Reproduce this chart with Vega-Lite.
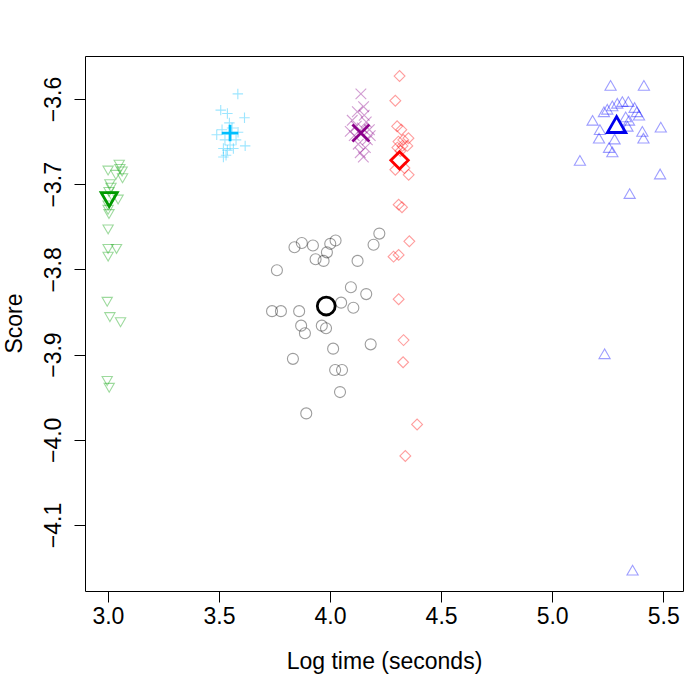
{
  "$schema": "https://vega.github.io/schema/vega-lite/v6.json",
  "autosize": {"type": "none"},
  "width": 598,
  "height": 535,
  "padding": {"left": 85, "top": 56, "right": 15, "bottom": 107},
  "background": "white",
  "config": {
    "view": {"stroke": "black", "strokeWidth": 1},
    "font": "Liberation Sans"
  },
  "datasets": {
    "pts": [
      {"grp": "G", "x": 3.001, "y": -3.684}, {"grp": "G", "x": 3.051, "y": -3.677}, {"grp": "G", "x": 3.054, "y": -3.682},
      {"grp": "G", "x": 3.064, "y": -3.685}, {"grp": "G", "x": 3.066, "y": -3.693}, {"grp": "G", "x": 3.036, "y": -3.689},
      {"grp": "G", "x": 3.009, "y": -3.700}, {"grp": "G", "x": 3.014, "y": -3.704}, {"grp": "G", "x": 3.005, "y": -3.709},
      {"grp": "G", "x": 3.018, "y": -3.714}, {"grp": "G", "x": 3.046, "y": -3.718}, {"grp": "G", "x": 3.001, "y": -3.725},
      {"grp": "G", "x": 3.001, "y": -3.730}, {"grp": "G", "x": 3.005, "y": -3.735}, {"grp": "G", "x": 3.001, "y": -3.753},
      {"grp": "G", "x": 3.001, "y": -3.776}, {"grp": "G", "x": 3.039, "y": -3.776}, {"grp": "G", "x": 3.001, "y": -3.785},
      {"grp": "G", "x": 2.997, "y": -3.838}, {"grp": "G", "x": 3.009, "y": -3.856}, {"grp": "G", "x": 3.057, "y": -3.862},
      {"grp": "G", "x": 2.997, "y": -3.931}, {"grp": "G", "x": 3.006, "y": -3.939},

      {"grp": "C", "x": 3.585, "y": -3.594}, {"grp": "C", "x": 3.508, "y": -3.613}, {"grp": "C", "x": 3.538, "y": -3.617},
      {"grp": "C", "x": 3.615, "y": -3.622}, {"grp": "C", "x": 3.547, "y": -3.628}, {"grp": "C", "x": 3.490, "y": -3.642},
      {"grp": "C", "x": 3.514, "y": -3.636}, {"grp": "C", "x": 3.527, "y": -3.648}, {"grp": "C", "x": 3.550, "y": -3.654},
      {"grp": "C", "x": 3.577, "y": -3.648}, {"grp": "C", "x": 3.586, "y": -3.639}, {"grp": "C", "x": 3.618, "y": -3.655},
      {"grp": "C", "x": 3.520, "y": -3.658}, {"grp": "C", "x": 3.538, "y": -3.660}, {"grp": "C", "x": 3.532, "y": -3.666},
      {"grp": "C", "x": 3.520, "y": -3.668}, {"grp": "C", "x": 3.565, "y": -3.658}, {"grp": "C", "x": 3.559, "y": -3.634},

      {"grp": "P", "x": 4.139, "y": -3.594}, {"grp": "P", "x": 4.151, "y": -3.609}, {"grp": "P", "x": 4.123, "y": -3.615},
      {"grp": "P", "x": 4.154, "y": -3.619}, {"grp": "P", "x": 4.100, "y": -3.625}, {"grp": "P", "x": 4.163, "y": -3.627},
      {"grp": "P", "x": 4.118, "y": -3.632}, {"grp": "P", "x": 4.145, "y": -3.634}, {"grp": "P", "x": 4.177, "y": -3.636},
      {"grp": "P", "x": 4.109, "y": -3.643}, {"grp": "P", "x": 4.168, "y": -3.648}, {"grp": "P", "x": 4.127, "y": -3.653},
      {"grp": "P", "x": 4.159, "y": -3.657}, {"grp": "P", "x": 4.136, "y": -3.663}, {"grp": "P", "x": 4.150, "y": -3.668},
      {"grp": "P", "x": 4.091, "y": -3.638}, {"grp": "P", "x": 4.181, "y": -3.643},

      {"grp": "R", "x": 4.313, "y": -3.573}, {"grp": "R", "x": 4.294, "y": -3.602}, {"grp": "R", "x": 4.302, "y": -3.632},
      {"grp": "R", "x": 4.321, "y": -3.636}, {"grp": "R", "x": 4.353, "y": -3.646}, {"grp": "R", "x": 4.330, "y": -3.648},
      {"grp": "R", "x": 4.308, "y": -3.650}, {"grp": "R", "x": 4.326, "y": -3.655}, {"grp": "R", "x": 4.348, "y": -3.655},
      {"grp": "R", "x": 4.303, "y": -3.657}, {"grp": "R", "x": 4.317, "y": -3.661}, {"grp": "R", "x": 4.294, "y": -3.683},
      {"grp": "R", "x": 4.335, "y": -3.681}, {"grp": "R", "x": 4.354, "y": -3.689}, {"grp": "R", "x": 4.309, "y": -3.724},
      {"grp": "R", "x": 4.324, "y": -3.727}, {"grp": "R", "x": 4.357, "y": -3.767}, {"grp": "R", "x": 4.286, "y": -3.785},
      {"grp": "R", "x": 4.309, "y": -3.783}, {"grp": "R", "x": 4.309, "y": -3.835}, {"grp": "R", "x": 4.331, "y": -3.883},
      {"grp": "R", "x": 4.329, "y": -3.909}, {"grp": "R", "x": 4.392, "y": -3.982}, {"grp": "R", "x": 4.339, "y": -4.019},

      {"grp": "K", "x": 4.222, "y": -3.758}, {"grp": "K", "x": 4.196, "y": -3.771}, {"grp": "K", "x": 3.840, "y": -3.774},
      {"grp": "K", "x": 3.873, "y": -3.769}, {"grp": "K", "x": 3.923, "y": -3.772}, {"grp": "K", "x": 4.001, "y": -3.770},
      {"grp": "K", "x": 4.025, "y": -3.766}, {"grp": "K", "x": 3.986, "y": -3.780}, {"grp": "K", "x": 3.935, "y": -3.788},
      {"grp": "K", "x": 3.971, "y": -3.790}, {"grp": "K", "x": 4.124, "y": -3.790}, {"grp": "K", "x": 3.761, "y": -3.801},
      {"grp": "K", "x": 4.094, "y": -3.821}, {"grp": "K", "x": 4.163, "y": -3.829}, {"grp": "K", "x": 4.050, "y": -3.839},
      {"grp": "K", "x": 4.105, "y": -3.845}, {"grp": "K", "x": 3.739, "y": -3.849}, {"grp": "K", "x": 3.779, "y": -3.849},
      {"grp": "K", "x": 3.861, "y": -3.849}, {"grp": "K", "x": 3.870, "y": -3.866}, {"grp": "K", "x": 3.887, "y": -3.875},
      {"grp": "K", "x": 3.963, "y": -3.866}, {"grp": "K", "x": 3.982, "y": -3.869}, {"grp": "K", "x": 4.014, "y": -3.893},
      {"grp": "K", "x": 4.183, "y": -3.888}, {"grp": "K", "x": 3.833, "y": -3.905}, {"grp": "K", "x": 4.023, "y": -3.918},
      {"grp": "K", "x": 4.054, "y": -3.918}, {"grp": "K", "x": 4.045, "y": -3.944}, {"grp": "K", "x": 3.893, "y": -3.969},

      {"grp": "B", "x": 5.263, "y": -3.584}, {"grp": "B", "x": 5.413, "y": -3.584}, {"grp": "B", "x": 5.293, "y": -3.605},
      {"grp": "B", "x": 5.316, "y": -3.603}, {"grp": "B", "x": 5.343, "y": -3.603}, {"grp": "B", "x": 5.271, "y": -3.608},
      {"grp": "B", "x": 5.248, "y": -3.612}, {"grp": "B", "x": 5.233, "y": -3.615}, {"grp": "B", "x": 5.371, "y": -3.610},
      {"grp": "B", "x": 5.381, "y": -3.615}, {"grp": "B", "x": 5.391, "y": -3.619}, {"grp": "B", "x": 5.182, "y": -3.625},
      {"grp": "B", "x": 5.331, "y": -3.621}, {"grp": "B", "x": 5.346, "y": -3.625}, {"grp": "B", "x": 5.339, "y": -3.632},
      {"grp": "B", "x": 5.215, "y": -3.636}, {"grp": "B", "x": 5.211, "y": -3.646}, {"grp": "B", "x": 5.281, "y": -3.647},
      {"grp": "B", "x": 5.406, "y": -3.638}, {"grp": "B", "x": 5.411, "y": -3.646}, {"grp": "B", "x": 5.489, "y": -3.633},
      {"grp": "B", "x": 5.256, "y": -3.657}, {"grp": "B", "x": 5.271, "y": -3.662}, {"grp": "B", "x": 5.125, "y": -3.672},
      {"grp": "B", "x": 5.486, "y": -3.688}, {"grp": "B", "x": 5.349, "y": -3.711}, {"grp": "B", "x": 5.236, "y": -3.899},
      {"grp": "B", "x": 5.362, "y": -4.153}
    ],
    "means": [
      {"grp": "G", "x": 3.006, "y": -3.718},
      {"grp": "C", "x": 3.550, "y": -3.640},
      {"grp": "P", "x": 4.139, "y": -3.640},
      {"grp": "R", "x": 4.313, "y": -3.672},
      {"grp": "K", "x": 3.983, "y": -3.843},
      {"grp": "B", "x": 5.290, "y": -3.630}
    ]
  },
  "encoding": {
    "x": {
      "field": "x", "type": "quantitative",
      "scale": {"domain": [2.897, 5.589], "nice": false, "zero": false},
      "axis": {
        "title": "Log time (seconds)", "values": [3, 3.5, 4, 4.5, 5, 5.5], "format": ".1f",
        "domain": false, "grid": false, "tickSize": 11, "tickColor": "black", "tickWidth": 1,
        "labelFontSize": 23, "labelColor": "black", "labelFont": "Liberation Sans",
        "labelBaseline": "alphabetic", "labelPadding": 21, "labelFlush": false, "labelOverlap": false,
        "titleFontSize": 23, "titleFontWeight": "normal", "titleColor": "black", "titleFont": "Liberation Sans",
        "titleX": 299, "titleY": 77, "titleBaseline": "alphabetic", "titleAlign": "center"
      }
    },
    "y": {
      "field": "y", "type": "quantitative",
      "scale": {"domain": [-4.1775, -3.5495], "nice": false, "zero": false},
      "axis": {
        "title": "Score", "values": [-4.1, -4.0, -3.9, -3.8, -3.7, -3.6], "format": ".1f",
        "domain": false, "grid": false, "tickSize": 11, "tickColor": "black", "tickWidth": 1,
        "labelFontSize": 23, "labelColor": "black", "labelFont": "Liberation Sans",
        "labelAngle": 270, "labelAlign": "center", "labelBaseline": "alphabetic", "labelPadding": 14,
        "labelFlush": false, "labelOverlap": false,
        "titleFontSize": 23, "titleFontWeight": "normal", "titleColor": "black", "titleFont": "Liberation Sans",
        "titleAngle": 270, "titleX": -64, "titleY": 267, "titleBaseline": "alphabetic", "titleAlign": "center"
      }
    }
  },
  "layer": [
    {
      "data": {"name": "pts"},
      "mark": {"type": "point", "filled": false, "strokeWidth": 1.1, "opacity": 0.38},
      "encoding": {
        "shape": {"field": "grp", "type": "nominal", "legend": null,
          "scale": {"domain": ["G", "C", "P", "R", "K", "B"],
            "range": ["triangle-down", "M-1,0L1,0M0,-1L0,1", "M-1,-1L1,1M-1,1L1,-1", "diamond", "circle", "triangle-up"]}},
        "color": {"field": "grp", "type": "nominal", "legend": null,
          "scale": {"domain": ["G", "C", "P", "R", "K", "B"],
            "range": ["#00A000", "#00BFFF", "#8B008B", "#FF0000", "#000000", "#0000FF"]}},
        "size": {"field": "grp", "type": "nominal", "legend": null,
          "scale": {"domain": ["G", "C", "P", "R", "K", "B"], "range": [105, 125, 82, 132, 62, 110]}}
      }
    },
    {
      "data": {"name": "means"},
      "mark": {"type": "point", "filled": false, "strokeWidth": 2.8, "opacity": 1},
      "encoding": {
        "shape": {"field": "grp", "type": "nominal", "legend": null,
          "scale": {"domain": ["G", "C", "P", "R", "K", "B"],
            "range": ["triangle-down", "M-1,0L1,0M0,-1L0,1", "M-1,-1L1,1M-1,1L1,-1", "diamond", "circle", "triangle-up"]}},
        "color": {"field": "grp", "type": "nominal", "legend": null,
          "scale": {"domain": ["G", "C", "P", "R", "K", "B"],
            "range": ["#009A00", "#00BFFF", "#8B008B", "#FF0000", "#000000", "#0000EE"]}},
        "size": {"field": "grp", "type": "nominal", "legend": null,
          "scale": {"domain": ["G", "C", "P", "R", "K", "B"], "range": [256, 336, 150, 278, 150, 278]}}
      }
    }
  ],
  "resolve": {"scale": {"color": "independent", "size": "independent"}}
}
